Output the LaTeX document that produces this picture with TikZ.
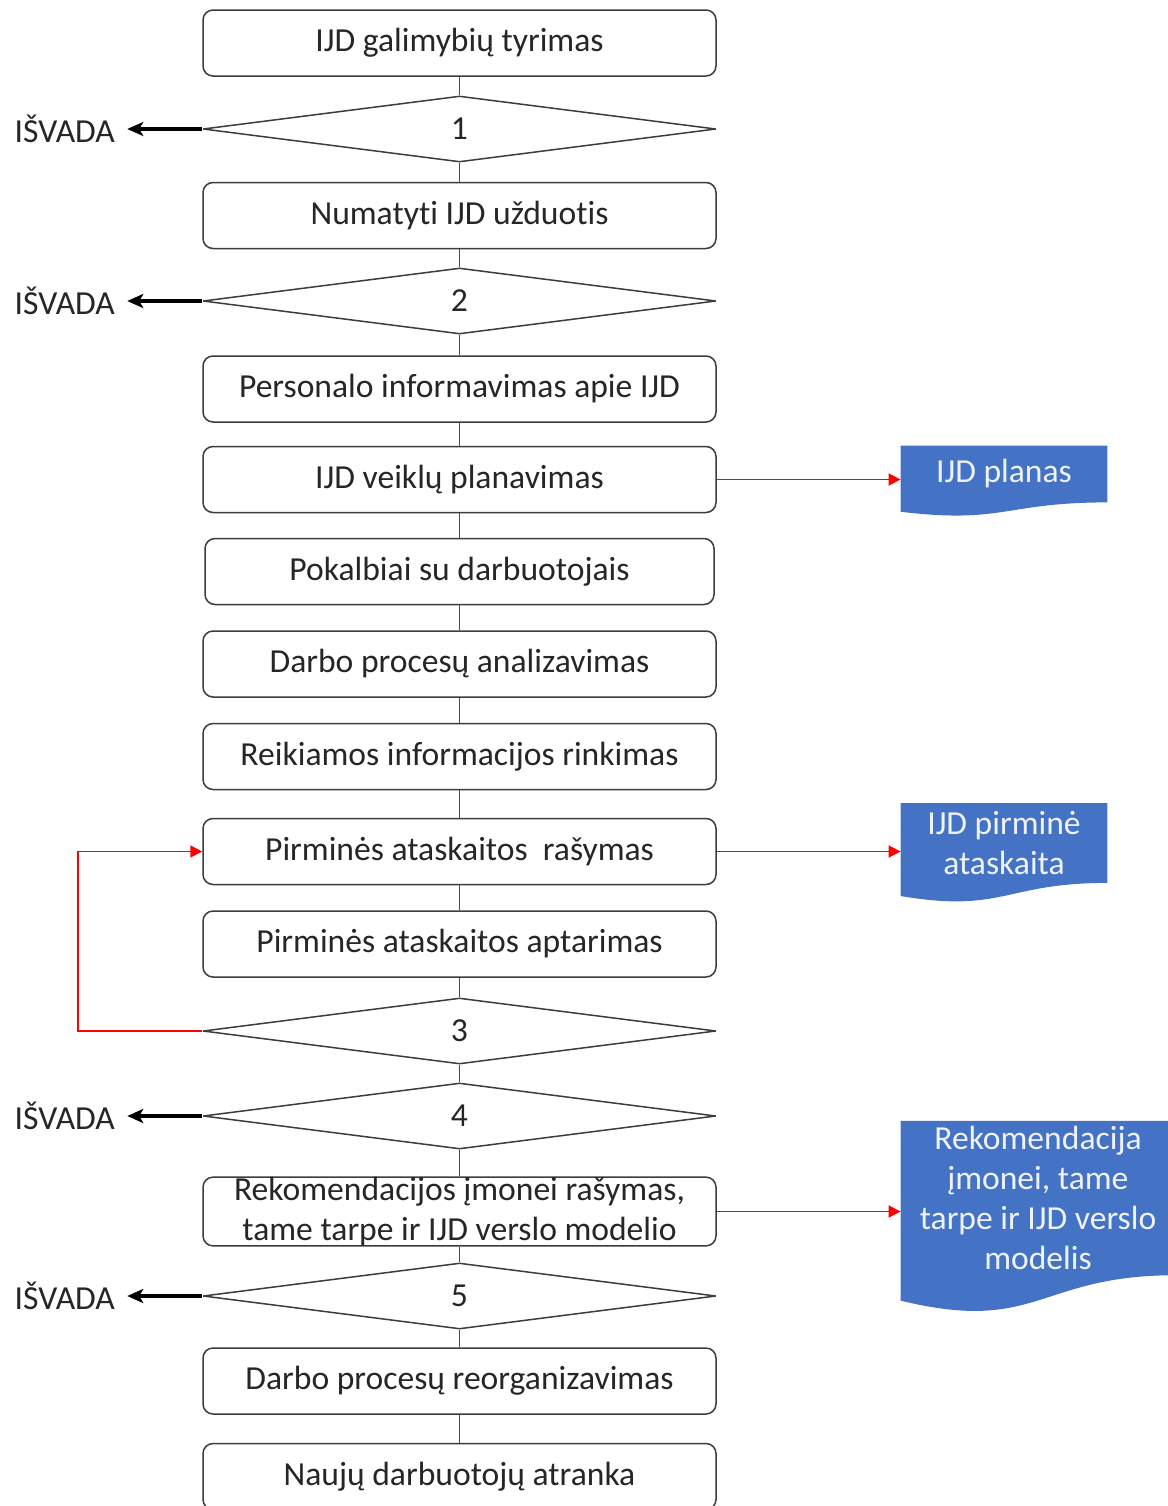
\documentclass[tikz,border=0pt]{standalone}
\usepackage{fontspec}
\setmainfont{Carlito}[Ligatures=NoCommon]
\usetikzlibrary{positioning,arrows.meta,shapes.geometric,backgrounds,calc}
\definecolor{ijdblue}{HTML}{4472C4}
\definecolor{ijdred}{HTML}{FF0000}
\definecolor{ijdgray}{HTML}{262626}
\definecolor{ijdlight}{HTML}{EEF2F9}

\begin{document}
\begin{tikzpicture}[x=0.5pt, y=-0.5pt,
      font=\fontsize{16.8}{20}\selectfont, text=ijdgray,
      zingsnis/.style={draw=ijdgray!90, line width=0.75pt, rounded corners=5pt, fill=white,
                       minimum width=256.5pt, minimum height=33pt, inner sep=2pt, align=center},
      sprendimas/.style={diamond, draw=ijdgray!90, line width=0.75pt, line join=bevel, fill=white,
                         minimum width=256.5pt, minimum height=33pt, inner sep=0pt},
      dokumentas/.style={text=ijdlight, align=center, inner sep=0pt},
      isvada/.style={inner sep=2pt},
      jungtis/.style={ijdred, line width=0.85pt},
      rodykle/.style={-{Triangle[length=6pt, width=6pt]}, ijdred, line width=0.85pt},
      grizti/.style={-{Stealth[length=8pt, width=7pt, inset=2pt]}, black, line width=2pt}]
    \useasboundingbox (0,0) rectangle (1168,1506);
    % pagrindine seka
    \node[zingsnis] (tyrimas) at (459.5,43) {IJD galimybių tyrimas};
    \node[sprendimas] (d1) at (459.5,129) {1};
    \node[zingsnis] (uzduotis) at (459.5,215.5) {Numatyti IJD užduotis};
    \node[sprendimas] (d2) at (459.5,301) {2};
    \node[zingsnis] (informavimas) at (459.5,389) {Personalo informavimas apie IJD};
    \node[zingsnis] (planavimas) at (459.5,479.5) {IJD veiklų planavimas};
    \node[zingsnis, minimum width=254.5pt] (pokalbiai) at (459.5,571.5) {Pokalbiai su darbuotojais};
    \node[zingsnis] (analizavimas) at (459.5,664) {Darbo procesų analizavimas};
    \node[zingsnis] (rinkimas) at (459.5,756.5) {Reikiamos informacijos rinkimas};
    \node[zingsnis] (rasymas) at (459.5,851.5) {Pirminės ataskaitos\ \ rašymas};
    \node[zingsnis] (aptarimas) at (459.5,944) {Pirminės ataskaitos aptarimas};
    \node[sprendimas] (d3) at (459.5,1031) {3};
    \node[sprendimas] (d4) at (459.5,1116) {4};
    \node[zingsnis, inner ysep=0pt] (rekomendacijos) at (459.5,1211.5) {Rekomendacijos įmonei rašymas,\\tame tarpe ir IJD verslo modelio};
    \node[sprendimas] (d5) at (459.5,1296) {5};
    \node[zingsnis] (reorganizavimas) at (459.5,1381) {Darbo procesų reorganizavimas};
    \node[zingsnis] (atranka) at (459.5,1476.5) {Naujų darbuotojų atranka};
    % dokumentai
    \node[dokumentas, minimum width=103pt, minimum height=28pt] (planas) at (1004,474) {IJD planas};
    \node[dokumentas, minimum width=103pt, minimum height=39.5pt] (pirmine) at (1004,843) {IJD pirminė\\ataskaita};
    \node[dokumentas, minimum width=137pt, minimum height=76.8pt] (rekomendacija) at (1038,1198) {Rekomendacija\\įmonei, tame\\tarpe ir IJD verslo\\modelis};
    \begin{scope}[on background layer]
      \foreach \d in {planas,pirmine,rekomendacija}
        \fill[ijdblue] let \p1=(\d.north west), \p2=(\d.south east) in
          (\x1,\y1) -- (\x2,\y1) -- (\x2,\y2)
          .. controls ({(\x1+\x2)/2},\y2) and ({(\x1+\x2)/2},{\y1-1.3815*(\y1-\y2)})
          .. (\x1,{\y1-1.1646*(\y1-\y2)}) -- cycle;
    \end{scope}
    % jungtys
    \foreach \a/\b in {tyrimas/d1, d1/uzduotis, uzduotis/d2, d2/informavimas,
                       informavimas/planavimas, planavimas/pokalbiai, pokalbiai/analizavimas,
                       analizavimas/rinkimas, rinkimas/rasymas, rasymas/aptarimas,
                       aptarimas/d3, d3/d4, d4/rekomendacijos, rekomendacijos/d5,
                       d5/reorganizavimas, reorganizavimas/atranka}
      \draw[jungtis] (\a.south) -- (\b.north);
    % isvados
    \foreach \d in {d1,d2,d4,d5} {
      \node[isvada, left=41.5pt of \d] (isv\d) {IŠVADA};
      \draw[grizti, shorten >=4pt] (\d.west) -- (isv\d.east);
    }
    \draw[rodykle] (planavimas.east) -- (planavimas.east -| planas.west);
    \draw[rodykle] (rasymas.east) -- (rasymas.east -| pirmine.west);
    \draw[rodykle] (rekomendacijos.east) -- (rekomendacijos.east -| rekomendacija.west);
    \draw[rodykle] (d3.west) -- ++(-124,0) |- (rasymas.west);
  \end{tikzpicture}
\end{document}
